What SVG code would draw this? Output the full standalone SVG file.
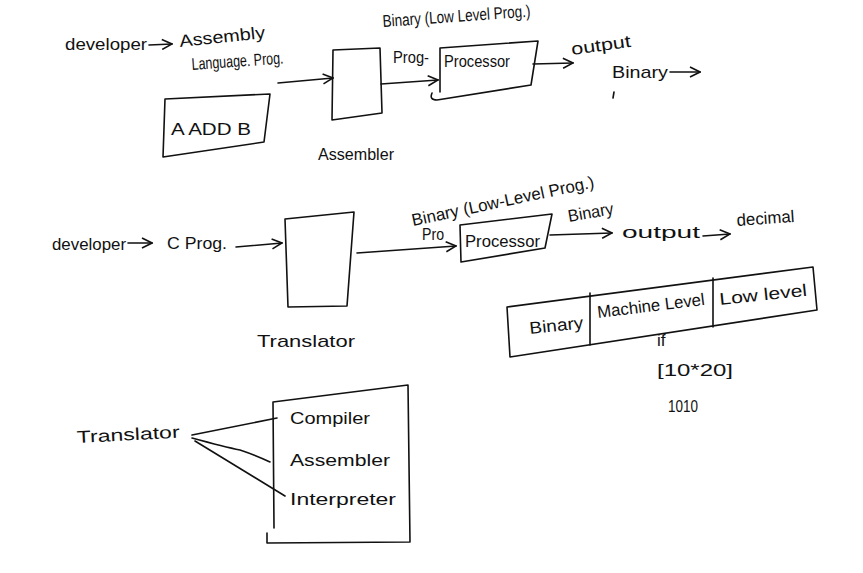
<svg xmlns="http://www.w3.org/2000/svg" width="863" height="573" viewBox="0 0 863 573">
<style>
text{font-family:"Liberation Sans","DejaVu Sans",sans-serif;font-size:17px;fill:#111}
.s{fill:none;stroke:#111;stroke-width:1.6;stroke-linecap:round;stroke-linejoin:round}
.c{fill:none;stroke:#111;stroke-width:1.6;stroke-linecap:round;marker-end:url(#ah)}
</style>
<defs>
<marker id="ah" viewBox="0 0 12 12" refX="11" refY="6" markerWidth="12" markerHeight="12" markerUnits="userSpaceOnUse" orient="auto">
<path d="M1,1 L11,6 L1,11" fill="none" stroke="#111" stroke-width="1.6"/>
</marker>
</defs>
<rect width="863" height="573" fill="#fff"/>

<g id="connectors">
<path class="c" d="M278,83 L333,78"/>
<path class="c" d="M381,84 L438,80"/>
<path class="c" d="M533,64 L573,63"/>
<path class="c" d="M670,72 L700,72"/>
<path class="s" d="M614,92 L613,98"/>
<path class="c" d="M236,247 L282,243"/>
<path class="c" d="M357,253 L456,246"/>
<path class="c" d="M550,235 L612,233"/>
<path class="c" d="M703,236 L730,234"/>
<path class="s" d="M192,435 L277,418"/>
<path class="s" d="M192,438 Q225,447 240,450 Q255,455 270,462"/>
<path class="s" d="M195,441 L285,496"/>
</g>

<g id="top-developer">
<text x="65" y="50" textLength="82" lengthAdjust="spacingAndGlyphs">developer</text>
<path class="c" d="M149,45 L172,44"/>
<text x="180" y="47" textLength="86" lengthAdjust="spacingAndGlyphs" transform="rotate(-6 180 47)">Assembly</text>
<text x="192" y="70" textLength="92" lengthAdjust="spacingAndGlyphs" transform="rotate(-4 192 70)">Language. Prog.</text>
</g>

<g id="a-add-b">
<path class="s" d="M165,99 L270,94 L264,142 L163,157 Z"/>
<text x="171" y="135" textLength="80" lengthAdjust="spacingAndGlyphs">A ADD B</text>
</g>

<g id="assembler">
<path class="s" d="M333,50 L380,48 L382,113 L332,120 Z"/>
<text x="318" y="160" textLength="76" lengthAdjust="spacingAndGlyphs">Assembler</text>
</g>

<g id="processor-1">
<path class="s" d="M440,48 L538,41 L531,85 L437,100 Q429,100 432,93 M440,48 L440,92"/>
<text x="444" y="67" textLength="66" lengthAdjust="spacingAndGlyphs">Processor</text>
<text x="393" y="63" textLength="36" lengthAdjust="spacingAndGlyphs">Prog-</text>
<text x="383" y="27" textLength="148" lengthAdjust="spacingAndGlyphs" transform="rotate(-4 383 27)">Binary (Low Level Prog.)</text>
</g>

<g id="output-1">
<text x="572" y="55" textLength="60" lengthAdjust="spacingAndGlyphs" transform="rotate(-8 572 55)">output</text>
<text x="612" y="78" textLength="56" lengthAdjust="spacingAndGlyphs">Binary</text>
</g>

<g id="mid-developer">
<text x="52" y="250" textLength="74" lengthAdjust="spacingAndGlyphs">developer</text>
<path class="c" d="M128,243 L152,243"/>
<text x="167" y="249" textLength="60" lengthAdjust="spacingAndGlyphs">C Prog.</text>
</g>

<g id="translator">
<path class="s" d="M285,219 L354,212 L347,306 L288,307 L285,219"/>
<text x="257" y="347" textLength="98" lengthAdjust="spacingAndGlyphs">Translator</text>
</g>

<g id="processor-2">
<path class="s" d="M460,225 L552,214 L545,248 L461,262 Z"/>
<text x="465" y="247" textLength="75" lengthAdjust="spacingAndGlyphs">Processor</text>
<text x="422" y="240" textLength="22" lengthAdjust="spacingAndGlyphs" font-size="14">Pro</text>
<text x="413" y="226" textLength="186" lengthAdjust="spacingAndGlyphs" transform="rotate(-12 413 226)">Binary (Low-Level Prog.)</text>
<text x="569" y="222" textLength="46" lengthAdjust="spacingAndGlyphs" transform="rotate(-10 569 222)">Binary</text>
</g>

<g id="output-2">
<text x="622" y="238" textLength="78" lengthAdjust="spacingAndGlyphs" font-size="22">output</text>
<text x="737" y="226" textLength="58" lengthAdjust="spacingAndGlyphs" transform="rotate(-4 737 226)">decimal</text>
</g>

<g id="levels-table">
<path class="s" d="M507,307 L813,267 L817,310 L510,357 Z"/>
<path class="s" d="M590,293 L590,345 M713,278 L713,327"/>
<text x="530" y="334" textLength="54" lengthAdjust="spacingAndGlyphs" transform="rotate(-6 530 334)">Binary</text>
<text x="598" y="318" textLength="108" lengthAdjust="spacingAndGlyphs" transform="rotate(-7 598 318)">Machine Level</text>
<text x="720" y="305" textLength="88" lengthAdjust="spacingAndGlyphs" transform="rotate(-6 720 305)">Low level</text>
<text x="657" y="346" font-size="15">if</text>
<text x="657" y="376" textLength="76" lengthAdjust="spacingAndGlyphs">[10*20]</text>
<text x="668" y="412" textLength="30" lengthAdjust="spacingAndGlyphs" font-size="15">1010</text>
</g>

<g id="translator-types">
<text x="77" y="443" textLength="103" lengthAdjust="spacingAndGlyphs" transform="rotate(-3 77 443)">Translator</text>
<path class="s" d="M273,402 L408,385 L410,542 L267,543 L267,533 M273,402 L274,528"/>
<text x="290" y="424" textLength="80" lengthAdjust="spacingAndGlyphs">Compiler</text>
<text x="290" y="466" textLength="100" lengthAdjust="spacingAndGlyphs">Assembler</text>
<text x="290" y="505" textLength="106" lengthAdjust="spacingAndGlyphs">Interpreter</text>
</g>
</svg>
